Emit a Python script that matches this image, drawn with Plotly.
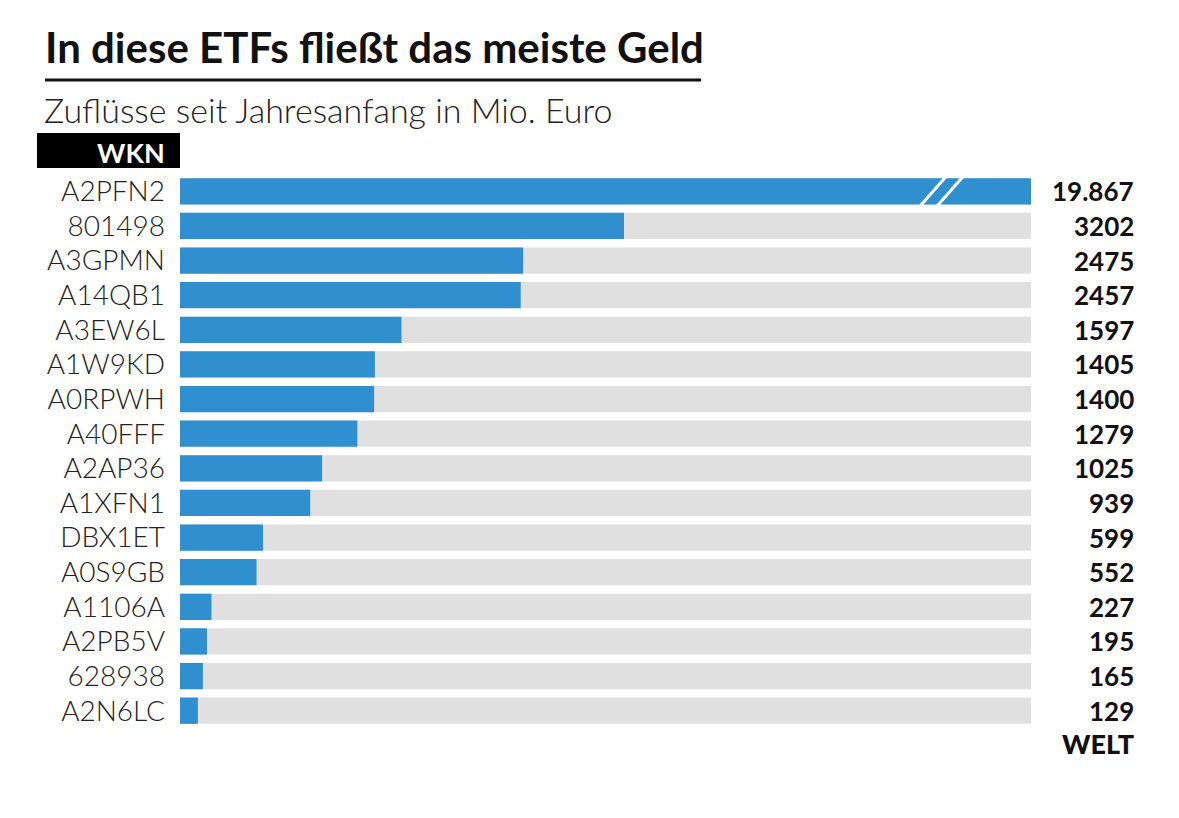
import plotly.graph_objects as go

wkn = ["A2PFN2", "801498", "A3GPMN", "A14QB1", "A3EW6L", "A1W9KD", "A0RPWH", "A40FFF",
       "A2AP36", "A1XFN1", "DBX1ET", "A0S9GB", "A1106A", "A2PB5V", "628938", "A2N6LC"]
values = [19867, 3202, 2475, 2457, 1597, 1405, 1400, 1279, 1025, 939, 599, 552, 227, 195, 165, 129]
value_labels = ["19.867", "3202", "2475", "2457", "1597", "1405", "1400", "1279",
                "1025", "939", "599", "552", "227", "195", "165", "129"]

axis_max = 6137  # visible scale; first bar is truncated (break marks)

W, H = 1179, 818
L, R, T, B = 180, 148, 174, 90
pw = W - L - R
ph = H - T - B

BLUE = "#2f8fcf"
GRAY = "#e0e0e0"
FONT = "Lato"

fig = go.Figure()
fig.add_trace(go.Bar(y=wkn, x=[axis_max] * len(wkn), orientation="h",
                     marker=dict(color=GRAY, line=dict(width=0)), hoverinfo="skip", showlegend=False))
fig.add_trace(go.Bar(y=wkn, x=values, orientation="h",
                     marker=dict(color=BLUE, line=dict(width=0)), showlegend=False))

def px_x(p):
    return (p - L) / pw

def px_y(p):
    return 1 - (p - T) / ph

annotations = []
for i, lab in enumerate(value_labels):
    annotations.append(dict(x=px_x(1136), xref="paper", y=i, yref="y", text=lab,
                            showarrow=False, xanchor="right", yanchor="middle",
                            font=dict(family=FONT, size=26, color="#111111", weight="bold")))

# title, subtitle
annotations.append(dict(x=px_x(43), xref="paper", y=px_y(47), yref="paper",
                        text="In diese ETFs fließt das meiste Geld", showarrow=False,
                        xanchor="left", yanchor="middle",
                        font=dict(family=FONT, size=42, color="#111111", weight="bold")))
annotations.append(dict(x=px_x(42), xref="paper", y=px_y(110), yref="paper",
                        text="Zuflüsse seit Jahresanfang in Mio. Euro", showarrow=False,
                        xanchor="left", yanchor="middle",
                        font=dict(family=FONT, size=34, color="#222222", weight=300)))
annotations.append(dict(x=px_x(167), xref="paper", y=px_y(152), yref="paper",
                        text="WKN", showarrow=False, xanchor="right", yanchor="middle",
                        font=dict(family=FONT, size=27, color="white", weight="bold")))
annotations.append(dict(x=px_x(1136), xref="paper", y=px_y(743), yref="paper",
                        text="WELT", showarrow=False, xanchor="right", yanchor="middle",
                        font=dict(family=FONT, size=27, color="#111111", weight=900)))

shapes = [
    dict(type="line", xref="paper", yref="paper", x0=px_x(45), x1=px_x(701),
         y0=px_y(80), y1=px_y(80), line=dict(color="#111111", width=3)),
    dict(type="rect", xref="paper", yref="paper", x0=px_x(37), x1=px_x(180),
         y0=px_y(168), y1=px_y(133), fillcolor="#000000", line=dict(width=0)),
]
# break marks on first bar
for off in (0, 17):
    shapes.append(dict(type="line", xref="x", yref="y",
                       x0=axis_max * 0.870 + off * axis_max / pw, x1=axis_max * 0.900 + off * axis_max / pw,
                       y0=0.42, y1=-0.42, line=dict(color="white", width=3)))

fig.update_layout(
    width=W, height=H,
    margin=dict(l=L, r=R, t=T, b=B),
    paper_bgcolor="white", plot_bgcolor="white",
    barmode="overlay", bargap=0.24,
    xaxis=dict(range=[0, axis_max], visible=False, fixedrange=True),
    yaxis=dict(type="category", range=[len(wkn) - 0.5, -0.5], autorange=False,
               showgrid=False, zeroline=False, showline=False,
               ticks="", ticklabelstandoff=14,
               tickfont=dict(family=FONT, size=28, color="#222222", weight=300)),
    annotations=annotations, shapes=shapes,
)

fig.write_html("out.html", config={"displayModeBar": False},
               post_script="document.body.style.margin='0';")
